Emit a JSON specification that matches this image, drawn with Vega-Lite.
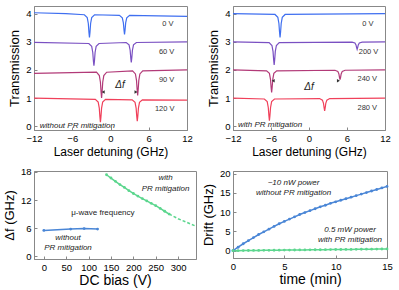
{
"$schema": "https://vega.github.io/schema/vega-lite/v6.json",
"padding": {"left": 2, "top": 5, "right": 2, "bottom": 2},
"background": "white",
"config": {
  "font": "Liberation Sans",
  "view": {"stroke": "#888", "strokeWidth": 1},
  "axis": {"grid": false, "domainColor": "#888", "tickColor": "#888", "tickSize": -3, "labelPadding": 6, "labelOverlap": false, "labelFlush": false, "format": ".0f", "labelFontSize": 9.5, "labelColor": "black", "titleColor": "black", "titleFontWeight": "normal", "titleFontSize": 13, "titlePadding": 4, "labelFont": "Liberation Sans", "titleFont": "Liberation Sans"},
  "text": {"font": "Liberation Sans"}
},
"resolve": {"scale": {"color": "independent"}},
"datasets": {
  "a": [
    {"s":"0 V","x":-12,"y":4.03},{"s":"0 V","x":-7,"y":4.0},{"s":"0 V","x":-4.1,"y":3.96},{"s":"0 V","x":-3.65,"y":3.86},{"s":"0 V","x":-3.48,"y":3.65},{"s":"0 V","x":-3.38,"y":3.33},{"s":"0 V","x":-3.3,"y":3.15},{"s":"0 V","x":-3.22,"y":3.33},{"s":"0 V","x":-3.12,"y":3.65},{"s":"0 V","x":-2.95,"y":3.86},{"s":"0 V","x":-2.5,"y":3.96},{"s":"0 V","x":1.4,"y":3.94},{"s":"0 V","x":1.85,"y":3.85},{"s":"0 V","x":2.02,"y":3.67},{"s":"0 V","x":2.12,"y":3.41},{"s":"0 V","x":2.2,"y":3.26},{"s":"0 V","x":2.28,"y":3.41},{"s":"0 V","x":2.38,"y":3.67},{"s":"0 V","x":2.55,"y":3.85},{"s":"0 V","x":3.0,"y":3.94},{"s":"0 V","x":12,"y":3.9},
    {"s":"60 V","x":-12,"y":2.98},{"s":"60 V","x":-3.4,"y":2.94},{"s":"60 V","x":-2.95,"y":2.84},{"s":"60 V","x":-2.78,"y":2.62},{"s":"60 V","x":-2.68,"y":2.31},{"s":"60 V","x":-2.6,"y":2.15},{"s":"60 V","x":-2.52,"y":2.31},{"s":"60 V","x":-2.42,"y":2.62},{"s":"60 V","x":-2.25,"y":2.84},{"s":"60 V","x":-1.8,"y":2.94},{"s":"60 V","x":2.46,"y":2.975},{"s":"60 V","x":2.91,"y":2.89},{"s":"60 V","x":3.08,"y":2.7},{"s":"60 V","x":3.18,"y":2.43},{"s":"60 V","x":3.26,"y":2.27},{"s":"60 V","x":3.34,"y":2.43},{"s":"60 V","x":3.44,"y":2.7},{"s":"60 V","x":3.61,"y":2.89},{"s":"60 V","x":4.06,"y":2.975},{"s":"60 V","x":12,"y":3.0},
    {"s":"90 V","x":-12,"y":1.88},{"s":"90 V","x":-2.2,"y":1.92},{"s":"90 V","x":-1.75,"y":1.8},{"s":"90 V","x":-1.58,"y":1.565},{"s":"90 V","x":-1.48,"y":1.22},{"s":"90 V","x":-1.4,"y":1.01},{"s":"90 V","x":-1.32,"y":1.22},{"s":"90 V","x":-1.22,"y":1.565},{"s":"90 V","x":-1.05,"y":1.8},{"s":"90 V","x":-0.6,"y":1.92},{"s":"90 V","x":3.46,"y":1.97},{"s":"90 V","x":3.91,"y":1.86},{"s":"90 V","x":4.08,"y":1.63},{"s":"90 V","x":4.18,"y":1.3},{"s":"90 V","x":4.26,"y":1.1},{"s":"90 V","x":4.34,"y":1.3},{"s":"90 V","x":4.44,"y":1.63},{"s":"90 V","x":4.61,"y":1.86},{"s":"90 V","x":5.06,"y":1.97},{"s":"90 V","x":12,"y":2.0},
    {"s":"120 V","x":-12,"y":1.0},{"s":"120 V","x":-2.38,"y":0.96},{"s":"120 V","x":-1.93,"y":0.86},{"s":"120 V","x":-1.76,"y":0.646},{"s":"120 V","x":-1.66,"y":0.335},{"s":"120 V","x":-1.58,"y":0.15},{"s":"120 V","x":-1.5,"y":0.335},{"s":"120 V","x":-1.4,"y":0.646},{"s":"120 V","x":-1.23,"y":0.86},{"s":"120 V","x":-0.78,"y":0.96},{"s":"120 V","x":3.4,"y":0.94},{"s":"120 V","x":3.85,"y":0.85},{"s":"120 V","x":4.02,"y":0.646},{"s":"120 V","x":4.12,"y":0.354},{"s":"120 V","x":4.2,"y":0.18},{"s":"120 V","x":4.28,"y":0.354},{"s":"120 V","x":4.38,"y":0.646},{"s":"120 V","x":4.55,"y":0.85},{"s":"120 V","x":5.0,"y":0.94},{"s":"120 V","x":12,"y":0.93}
  ],
  "b": [
    {"s":"0 V","x":-12,"y":4.0},{"s":"0 V","x":-5.37,"y":3.97},{"s":"0 V","x":-4.92,"y":3.87},{"s":"0 V","x":-4.75,"y":3.65},{"s":"0 V","x":-4.65,"y":3.34},{"s":"0 V","x":-4.57,"y":3.15},{"s":"0 V","x":-4.49,"y":3.34},{"s":"0 V","x":-4.39,"y":3.65},{"s":"0 V","x":-4.22,"y":3.87},{"s":"0 V","x":-3.77,"y":3.97},{"s":"0 V","x":12,"y":4.0},
    {"s":"200 V","x":-12,"y":3.0},{"s":"200 V","x":-6.3,"y":2.97},{"s":"200 V","x":-5.85,"y":2.87},{"s":"200 V","x":-5.68,"y":2.66},{"s":"200 V","x":-5.58,"y":2.36},{"s":"200 V","x":-5.5,"y":2.18},{"s":"200 V","x":-5.42,"y":2.36},{"s":"200 V","x":-5.32,"y":2.66},{"s":"200 V","x":-5.15,"y":2.87},{"s":"200 V","x":-4.7,"y":2.97},{"s":"200 V","x":6.8,"y":2.99},{"s":"200 V","x":7.25,"y":2.96},{"s":"200 V","x":7.42,"y":2.89},{"s":"200 V","x":7.52,"y":2.79},{"s":"200 V","x":7.6,"y":2.73},{"s":"200 V","x":7.68,"y":2.79},{"s":"200 V","x":7.78,"y":2.89},{"s":"200 V","x":7.95,"y":2.96},{"s":"200 V","x":8.4,"y":2.99},{"s":"200 V","x":12,"y":3.0},
    {"s":"240 V","x":-12,"y":2.0},{"s":"240 V","x":-6.7,"y":1.97},{"s":"240 V","x":-6.25,"y":1.88},{"s":"240 V","x":-6.08,"y":1.67},{"s":"240 V","x":-5.98,"y":1.38},{"s":"240 V","x":-5.9,"y":1.2},{"s":"240 V","x":-5.82,"y":1.38},{"s":"240 V","x":-5.72,"y":1.67},{"s":"240 V","x":-5.55,"y":1.88},{"s":"240 V","x":-5.1,"y":1.97},{"s":"240 V","x":4.1,"y":1.99},{"s":"240 V","x":4.55,"y":1.95},{"s":"240 V","x":4.72,"y":1.86},{"s":"240 V","x":4.82,"y":1.73},{"s":"240 V","x":4.9,"y":1.66},{"s":"240 V","x":4.98,"y":1.73},{"s":"240 V","x":5.08,"y":1.86},{"s":"240 V","x":5.25,"y":1.95},{"s":"240 V","x":5.7,"y":1.99},{"s":"240 V","x":12,"y":2.0},
    {"s":"280 V","x":-12,"y":1.0},{"s":"280 V","x":-7.05,"y":0.97},{"s":"280 V","x":-6.6,"y":0.88},{"s":"280 V","x":-6.43,"y":0.67},{"s":"280 V","x":-6.33,"y":0.38},{"s":"280 V","x":-6.25,"y":0.2},{"s":"280 V","x":-6.17,"y":0.38},{"s":"280 V","x":-6.07,"y":0.67},{"s":"280 V","x":-5.9,"y":0.88},{"s":"280 V","x":-5.45,"y":0.97},{"s":"280 V","x":1.67,"y":0.985},{"s":"280 V","x":2.12,"y":0.93},{"s":"280 V","x":2.29,"y":0.815},{"s":"280 V","x":2.39,"y":0.65},{"s":"280 V","x":2.47,"y":0.55},{"s":"280 V","x":2.55,"y":0.65},{"s":"280 V","x":2.65,"y":0.815},{"s":"280 V","x":2.82,"y":0.93},{"s":"280 V","x":3.27,"y":0.985},{"s":"280 V","x":12,"y":1.0}
  ],
  "c": [
    {"s":"without","x":0,"y":5.5},{"s":"without","x":60,"y":5.8},{"s":"without","x":90,"y":5.9},{"s":"without","x":120,"y":5.8},
    {"s":"with","x":140,"y":17.4},{"s":"with","x":150,"y":16.7},{"s":"with","x":160,"y":16.0},{"s":"with","x":170,"y":15.3},{"s":"with","x":180,"y":14.7},{"s":"with","x":190,"y":14.0},{"s":"with","x":200,"y":13.4},{"s":"with","x":210,"y":12.85},{"s":"with","x":220,"y":12.3},{"s":"with","x":230,"y":11.8},{"s":"with","x":240,"y":11.3},{"s":"with","x":250,"y":10.8},{"s":"with","x":260,"y":10.2},{"s":"with","x":270,"y":9.6},{"s":"with","x":280,"y":9.0}
  ],
  "cd": [
    {"x":280,"y":9.0},{"x":300,"y":8.0},{"x":320,"y":7.2},{"x":340,"y":6.4}
  ],
  "d": [
    {"s":"without","x":0,"y":0},{"s":"without","x":0.5,"y":0.9},{"s":"without","x":1,"y":1.8},{"s":"without","x":1.5,"y":2.6},{"s":"without","x":2,"y":3.4},{"s":"without","x":2.5,"y":4.2},{"s":"without","x":3,"y":4.9},{"s":"without","x":3.5,"y":5.6},{"s":"without","x":4,"y":6.3},{"s":"without","x":4.5,"y":7.0},{"s":"without","x":5,"y":7.6},{"s":"without","x":5.5,"y":8.2},{"s":"without","x":6,"y":8.8},{"s":"without","x":6.5,"y":9.4},{"s":"without","x":7,"y":9.9},{"s":"without","x":7.5,"y":10.4},{"s":"without","x":8,"y":10.9},{"s":"without","x":8.5,"y":11.4},{"s":"without","x":9,"y":11.8},{"s":"without","x":9.5,"y":12.3},{"s":"without","x":10,"y":12.7},{"s":"without","x":10.5,"y":13.1},{"s":"without","x":11,"y":13.5},{"s":"without","x":11.5,"y":13.9},{"s":"without","x":12,"y":14.3},{"s":"without","x":12.5,"y":14.7},{"s":"without","x":13,"y":15.1},{"s":"without","x":13.5,"y":15.5},{"s":"without","x":14,"y":15.9},{"s":"without","x":14.5,"y":16.3},{"s":"without","x":15,"y":16.7},
    {"s":"with","x":0,"y":0},{"s":"with","x":0.5,"y":0.01},{"s":"with","x":1,"y":0.03},{"s":"with","x":1.5,"y":0.04},{"s":"with","x":2,"y":0.06},{"s":"with","x":2.5,"y":0.07},{"s":"with","x":3,"y":0.09},{"s":"with","x":3.5,"y":0.1},{"s":"with","x":4,"y":0.12},{"s":"with","x":4.5,"y":0.13},{"s":"with","x":5,"y":0.15},{"s":"with","x":5.5,"y":0.16},{"s":"with","x":6,"y":0.18},{"s":"with","x":6.5,"y":0.19},{"s":"with","x":7,"y":0.21},{"s":"with","x":7.5,"y":0.22},{"s":"with","x":8,"y":0.24},{"s":"with","x":8.5,"y":0.25},{"s":"with","x":9,"y":0.27},{"s":"with","x":9.5,"y":0.28},{"s":"with","x":10,"y":0.3},{"s":"with","x":10.5,"y":0.31},{"s":"with","x":11,"y":0.33},{"s":"with","x":11.5,"y":0.34},{"s":"with","x":12,"y":0.36},{"s":"with","x":12.5,"y":0.37},{"s":"with","x":13,"y":0.39},{"s":"with","x":13.5,"y":0.4},{"s":"with","x":14,"y":0.42},{"s":"with","x":14.5,"y":0.43},{"s":"with","x":15,"y":0.45}
  ]
},
"vconcat": [
 {"hconcat": [
  {"width": 153, "height": 124,
   "layer": [
    {"data": {"name": "a"}, "mark": {"type": "line", "strokeWidth": 1.2},
     "encoding": {
      "x": {"field": "x", "type": "quantitative", "scale": {"domain": [-12, 12], "nice": false}, "axis": {"values": [-12, -6, 0, 6, 12], "format": ".0f", "tickCount": 20, "labelOverlap": false, "title": "Laser detuning (GHz)", "titleFontSize": 12}},
      "y": {"field": "y", "type": "quantitative", "scale": {"domain": [-0.13, 4.27], "nice": false, "zero": false}, "axis": {"values": [0, 1, 2, 3, 4], "format": ".0f", "tickCount": 20, "labelOverlap": false, "title": "Transmission"}},
      "color": {"field": "s", "type": "nominal", "scale": {"domain": ["0 V", "60 V", "90 V", "120 V"], "range": ["#3f6ff0", "#7a50c2", "#b23a78", "#f0405a"]}, "legend": null}}},
    {"mark": {"type": "rule", "strokeDash": [1.5, 1], "color": "#333", "strokeWidth": 1},
     "encoding": {"x": {"datum": -1.25}, "x2": {"datum": 4.1}, "y": {"datum": 1.22}}},
    {"data": {"values": [{"x": -1.15, "y": 1.22, "sh": "triangle-left"}, {"x": 4.0, "y": 1.22, "sh": "triangle-right"}]},
     "mark": {"type": "point", "filled": true, "color": "#333", "size": 12, "opacity": 1},
     "encoding": {"x": {"field": "x", "type": "quantitative"}, "y": {"field": "y", "type": "quantitative"}, "shape": {"field": "sh", "type": "nominal", "scale": null}}},
    {"data": {"values": [{"x": 1.5, "y": 1.45, "t": "Δf"}]},
     "mark": {"type": "text", "fontSize": 10, "fontStyle": "italic", "color": "#222"},
     "encoding": {"x": {"field": "x", "type": "quantitative"}, "y": {"field": "y", "type": "quantitative"}, "text": {"field": "t"}}},
    {"data": {"values": [{"x": 9.0, "y": 3.62, "t": "0 V"}, {"x": 8.8, "y": 2.63, "t": "60 V"}, {"x": 8.8, "y": 1.65, "t": "90 V"}, {"x": 8.5, "y": 0.63, "t": "120 V"}]},
     "mark": {"type": "text", "fontSize": 7.5, "color": "#333"},
     "encoding": {"x": {"field": "x", "type": "quantitative"}, "y": {"field": "y", "type": "quantitative"}, "text": {"field": "t"}}},
    {"data": {"values": [{"x": -11.1, "y": 0.02, "t": "without PR mitigation"}]},
     "mark": {"type": "text", "fontSize": 8, "fontStyle": "italic", "align": "left", "color": "#222"},
     "encoding": {"x": {"field": "x", "type": "quantitative"}, "y": {"field": "y", "type": "quantitative"}, "text": {"field": "t"}}},
    {"mark": {"type": "text", "text": "(a)", "fontSize": 13, "align": "left", "dx": -34.5, "dy": 1},
     "encoding": {"x": {"datum": -12}, "y": {"datum": 4}}}
   ]},
  {"width": 152, "height": 124,
   "layer": [
    {"data": {"name": "b"}, "mark": {"type": "line", "strokeWidth": 1.2},
     "encoding": {
      "x": {"field": "x", "type": "quantitative", "scale": {"domain": [-12, 12], "nice": false}, "axis": {"values": [-12, -6, 0, 6, 12], "format": ".0f", "tickCount": 20, "labelOverlap": false, "title": "Laser detuning (GHz)", "titleFontSize": 12}},
      "y": {"field": "y", "type": "quantitative", "scale": {"domain": [-0.13, 4.27], "nice": false, "zero": false}, "axis": {"values": [0, 1, 2, 3, 4], "format": ".0f", "tickCount": 20, "labelOverlap": false, "title": "Transmission"}},
      "color": {"field": "s", "type": "nominal", "scale": {"domain": ["0 V", "200 V", "240 V", "280 V"], "range": ["#3f6ff0", "#7a50c2", "#b23a78", "#f0405a"]}, "legend": null}}},
    {"mark": {"type": "rule", "strokeDash": [1.5, 1], "color": "#333", "strokeWidth": 1},
     "encoding": {"x": {"datum": -5.75}, "x2": {"datum": 4.75}, "y": {"datum": 1.62}}},
    {"data": {"values": [{"x": -5.65, "y": 1.62, "sh": "triangle-left"}, {"x": 4.65, "y": 1.62, "sh": "triangle-right"}]},
     "mark": {"type": "point", "filled": true, "color": "#333", "size": 12, "opacity": 1},
     "encoding": {"x": {"field": "x", "type": "quantitative"}, "y": {"field": "y", "type": "quantitative"}, "shape": {"field": "sh", "type": "nominal", "scale": null}}},
    {"data": {"values": [{"x": 0, "y": 1.38, "t": "Δf"}]},
     "mark": {"type": "text", "fontSize": 10, "fontStyle": "italic", "color": "#222"},
     "encoding": {"x": {"field": "x", "type": "quantitative"}, "y": {"field": "y", "type": "quantitative"}, "text": {"field": "t"}}},
    {"data": {"values": [{"x": 9.3, "y": 3.62, "t": "0 V"}, {"x": 9.4, "y": 2.65, "t": "200 V"}, {"x": 9.2, "y": 1.67, "t": "240 V"}, {"x": 9.2, "y": 0.64, "t": "280 V"}]},
     "mark": {"type": "text", "fontSize": 7.5, "color": "#333"},
     "encoding": {"x": {"field": "x", "type": "quantitative"}, "y": {"field": "y", "type": "quantitative"}, "text": {"field": "t"}}},
    {"data": {"values": [{"x": -11.2, "y": 0.03, "t": "with PR mitigation"}]},
     "mark": {"type": "text", "fontSize": 8, "fontStyle": "italic", "align": "left", "color": "#222"},
     "encoding": {"x": {"field": "x", "type": "quantitative"}, "y": {"field": "y", "type": "quantitative"}, "text": {"field": "t"}}},
    {"mark": {"type": "text", "text": "(b)", "fontSize": 13, "align": "left", "dx": -39, "dy": 1},
     "encoding": {"x": {"datum": -12}, "y": {"datum": 4}}}
   ]}
 ], "spacing": 46, "bounds": "flush", "resolve": {"scale": {"color": "independent"}}},
 {"hconcat": [
  {"width": 162, "height": 88,
   "layer": [
    {"mark": {"type": "rule", "color": "#eaa6e6", "strokeWidth": 2},
     "encoding": {"y": {"datum": 8}}},
    {"data": {"name": "c"}, "mark": {"type": "line", "strokeWidth": 1.5, "point": {"filled": true, "size": 8}},
     "encoding": {
      "x": {"field": "x", "type": "quantitative", "scale": {"domain": [-22, 340], "nice": false}, "axis": {"values": [0, 50, 100, 150, 200, 250, 300], "format": ".0f", "tickCount": 20, "labelOverlap": false, "title": "DC bias (V)", "titleFontSize": 14, "titlePadding": 2}},
      "y": {"field": "y", "type": "quantitative", "scale": {"domain": [-0.6, 18.2], "nice": false, "zero": false}, "axis": {"values": [0, 6, 12, 18], "format": ".0f", "tickCount": 20, "labelOverlap": false, "title": "Δf (GHz)"}},
      "color": {"field": "s", "type": "nominal", "scale": {"domain": ["without", "with"], "range": ["#4a86d6", "#5cd68e"]}, "legend": null}}},
    {"data": {"name": "cd"}, "mark": {"type": "line", "strokeWidth": 1.5, "strokeDash": [3, 2], "color": "#5cd68e"},
     "encoding": {"x": {"field": "x", "type": "quantitative"}, "y": {"field": "y", "type": "quantitative"}}},
    {"data": {"values": [{"x": 132, "y": 9.2, "t": "μ-wave frequency"}]},
     "mark": {"type": "text", "fontSize": 8, "color": "#222"},
     "encoding": {"x": {"field": "x", "type": "quantitative"}, "y": {"field": "y", "type": "quantitative"}, "text": {"field": "t"}}},
    {"data": {"values": [{"x": 272, "y": 16.6, "t": "with"}, {"x": 272, "y": 14.4, "t": "PR mitigation"}, {"x": 54, "y": 3.8, "t": "without"}, {"x": 54, "y": 1.7, "t": "PR mitigation"}]},
     "mark": {"type": "text", "fontSize": 8, "fontStyle": "italic", "color": "#222"},
     "encoding": {"x": {"field": "x", "type": "quantitative"}, "y": {"field": "y", "type": "quantitative"}, "text": {"field": "t"}}},
    {"mark": {"type": "text", "text": "(c)", "fontSize": 13, "align": "left", "dx": -34, "dy": 2},
     "encoding": {"x": {"datum": -22}, "y": {"datum": 18}}}
   ]},
  {"width": 154, "height": 87,
   "layer": [
    {"data": {"name": "d"}, "mark": {"type": "line", "strokeWidth": 1.5, "point": {"filled": true, "size": 8}},
     "encoding": {
      "x": {"field": "x", "type": "quantitative", "scale": {"domain": [0, 15], "nice": false}, "axis": {"values": [0, 5, 10, 15], "format": ".0f", "tickCount": 20, "labelOverlap": false, "title": "time (min)", "titleFontSize": 14, "titlePadding": 2}},
      "y": {"field": "y", "type": "quantitative", "scale": {"domain": [-1.9, 20.7], "nice": false, "zero": false}, "axis": {"values": [0, 5, 10, 15, 20], "format": ".0f", "tickCount": 20, "labelOverlap": false, "title": "Drift (GHz)"}},
      "color": {"field": "s", "type": "nominal", "scale": {"domain": ["without", "with"], "range": ["#4a86d6", "#5cd68e"]}, "legend": null}}},
    {"data": {"values": [{"x": 5.9, "y": 17.6, "t": "~10 nW power"}, {"x": 5.9, "y": 15.1, "t": "without PR mitigation"}, {"x": 11.4, "y": 5.3, "t": "0.5 mW power"}, {"x": 11.4, "y": 2.7, "t": "with PR mitigation"}]},
     "mark": {"type": "text", "fontSize": 8, "fontStyle": "italic", "color": "#222"},
     "encoding": {"x": {"field": "x", "type": "quantitative"}, "y": {"field": "y", "type": "quantitative"}, "text": {"field": "t"}}},
    {"mark": {"type": "text", "text": "(d)", "fontSize": 13, "align": "left", "dx": -33, "dy": -1},
     "encoding": {"x": {"datum": 0}, "y": {"datum": 20}}}
   ]}
 ], "spacing": 37, "bounds": "flush", "resolve": {"scale": {"color": "independent"}}}
],
"spacing": 8
}
